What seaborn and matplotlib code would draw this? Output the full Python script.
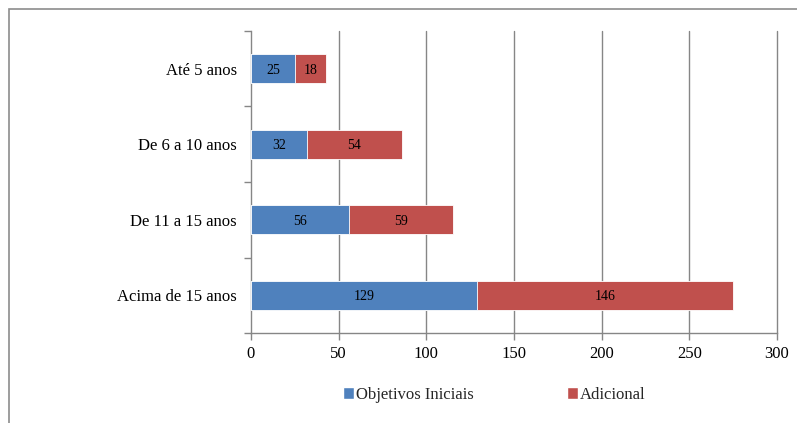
import matplotlib
matplotlib.use("Agg")
import matplotlib.pyplot as plt
import seaborn as sns
import pandas as pd
from matplotlib.patches import Rectangle
from matplotlib.ticker import FixedLocator
from matplotlib.font_manager import FontProperties

categories = ["Até 5 anos", "De 6 a 10 anos", "De 11 a 15 anos", "Acima de 15 anos"]
objetivos = [25, 32, 56, 129]
adicional = [18, 54, 59, 146]
series_names = ["Objetivos Iniciais", "Adicional"]
x_ticks = [0, 50, 100, 150, 200, 250, 300]

BLUE = "#4F81BD"
RED = "#C0504D"
GRID = "#868686"
SERIF = ["Liberation Serif", "DejaVu Serif"]

sns.set_theme(style="white")
plt.rcParams["font.family"] = SERIF

df = pd.DataFrame({
    "categoria": categories,
    "objetivos": objetivos,
    "adicional": adicional,
})
df["total"] = df["objetivos"] + df["adicional"]

fig = plt.figure(figsize=(7.97, 4.23), dpi=100)
ax = fig.add_axes([251 / 797, 1 - 333 / 423, (777 - 251) / 797, (333 - 31) / 423])

# outer chart frame (left and top edges visible)
fig.patches.append(Rectangle((9 / 797, -0.1), 1.2, 1 - 9 / 423 + 0.1,
                             transform=fig.transFigure, fill=False,
                             edgecolor="#8c8c8c", linewidth=1.2, zorder=0))

# stacked bars: total behind, first series on top
sns.barplot(data=df, y="categoria", x="total", color=RED, orient="h",
            width=0.39, ax=ax, saturation=1, edgecolor="white", linewidth=0.6,
            zorder=3)
sns.barplot(data=df, y="categoria", x="objetivos", color=BLUE, orient="h",
            width=0.39, ax=ax, saturation=1, edgecolor="white", linewidth=0.6,
            zorder=4)

for i, (a, b) in enumerate(zip(objetivos, adicional)):
    ax.text(a / 2, i, str(a), ha="center", va="center_baseline", fontsize=10,
            color="black", zorder=5, family=SERIF)
    ax.text(a + b / 2, i, str(b), ha="center", va="center_baseline", fontsize=10,
            color="black", zorder=5, family=SERIF)

ax.set_xlim(0, 300)
ax.set_ylim(3.5, -0.5)
ax.set_xticks(x_ticks)
ax.set_xticklabels([str(t) for t in x_ticks], fontsize=12, family=SERIF)
ax.set_yticks(range(len(categories)))
ax.set_yticklabels(categories, fontsize=12, family=SERIF)
ax.set_xlabel("")
ax.set_ylabel("")
ax.tick_params(axis="y", which="major", length=0, pad=10, labelcolor="black")
ax.yaxis.set_minor_locator(FixedLocator([-0.5, 0.5, 1.5, 2.5, 3.5]))
ax.tick_params(axis="y", which="minor", length=5, width=1, color=GRID,
               direction="out", left=True)
ax.tick_params(axis="x", which="major", length=5, width=1, color=GRID,
               direction="out", bottom=True, pad=4, labelcolor="black")

for t in x_ticks[1:]:
    ax.axvline(t, color=GRID, linewidth=1, zorder=1, clip_on=False)

for side in ["top", "right"]:
    ax.spines[side].set_visible(False)
for side in ["left", "bottom"]:
    ax.spines[side].set_visible(True)
    ax.spines[side].set_color(GRID)
    ax.spines[side].set_linewidth(1)
ax.grid(False)

handles = [Rectangle((0, 0), 1, 1, facecolor=BLUE),
           Rectangle((0, 0), 1, 1, facecolor=RED)]
fig.legend(handles, series_names, loc="center", bbox_to_anchor=(494 / 797, 1 - 395 / 423),
           ncol=2, frameon=False, prop=FontProperties(family=SERIF, size=12),
           handlelength=0.7, handleheight=0.7,
           handletextpad=0.08, columnspacing=5.6)

fig.savefig("out.png", dpi=100)
